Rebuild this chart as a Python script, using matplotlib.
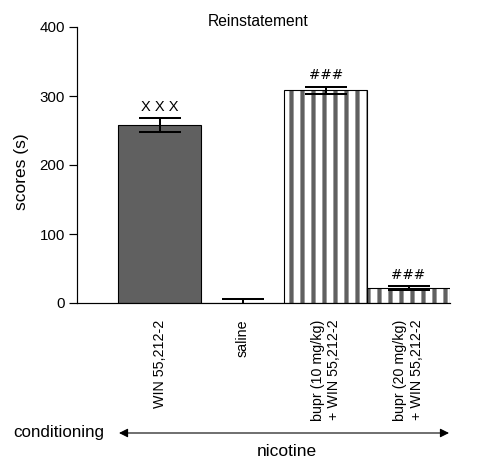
import matplotlib
matplotlib.use("Agg")
import matplotlib.pyplot as plt

# data
groups = ["WIN 55,212-2", "saline",
          "bupr (10 mg/kg)\n+ WIN 55,212-2",
          "bupr (20 mg/kg)\n+ WIN 55,212-2"]
means = [258, 0, 308, 22]
sems = [10, 6, 5, 2.5]
marks = ["X X X", "", "###", "###"]
colors = ["#606060", "white", "white", "white"]
hatches = ["", "", "|", "|"]

plt.rcParams["font.family"] = ["Liberation Sans", "DejaVu Sans"]
plt.rcParams["hatch.linewidth"] = 4.6

DPI = 66
fig = plt.figure(figsize=(487 / DPI, 460 / DPI), dpi=DPI)
ax = fig.add_axes([77 / 487, 1 - 303 / 460, (450 - 77) / 487, (303 - 27) / 460])

x = list(range(len(groups)))
# fill + grey stripes, then black outline on top
ax.bar(x, means, width=1.0, color=colors, edgecolor="#606060", linewidth=0,
       hatch=hatches)
ax.bar(x, means, width=1.0, fill=False, edgecolor="black", linewidth=1.2)
ax.errorbar(x, means, yerr=sems, fmt="none", ecolor="black", elinewidth=2.2,
            capsize=23, capthick=2.2)

for xi, m, s, t in zip(x, means, sems, marks):
    if t == "###":
        ax.annotate(t, (xi, m + s), xytext=(0, 5), textcoords="offset points",
                    ha="center", va="bottom", fontsize=15, family="DejaVu Sans")
    elif t:
        ax.annotate(t, (xi, m + s), xytext=(0, 4), textcoords="offset points",
                    ha="center", va="bottom", fontsize=16)

ax.set_xlim(-1.0, 3.5)
ax.set_ylim(0, 400)
ax.set_yticks([0, 100, 200, 300, 400])
ax.set_xticks(x)
ax.set_xticklabels(groups, rotation=90, va="top", ha="center",
                   multialignment="right", fontsize=15.5)
ax.tick_params(axis="x", length=0, pad=18)
ax.tick_params(axis="y", length=9, width=1.3, labelsize=16.5, pad=4)
ax.spines["top"].set_visible(False)
ax.spines["right"].set_visible(False)
ax.spines["left"].set_linewidth(1.3)
ax.spines["bottom"].set_linewidth(1.3)
ax.set_ylabel("scores (s)", fontsize=19, va="center")
ax.yaxis.set_label_coords(-0.15, 0.476)

fig.text(258 / 487, 1 - 21 / 460, "Reinstatement", fontsize=17, ha="center", va="center")
fig.text(13 / 487, 1 - 433 / 460, "conditioning", fontsize=18.5, ha="left", va="center")
fig.text(287 / 487, 1 - 452 / 460, "nicotine", fontsize=19, ha="center", va="center")
ax.annotate("", xy=(449 / 487, 1 - 433 / 460), xytext=(119 / 487, 1 - 433 / 460),
            xycoords="figure fraction", textcoords="figure fraction",
            arrowprops=dict(arrowstyle="<|-|>", color="black", lw=1.2,
                            mutation_scale=20, shrinkA=0, shrinkB=0))

fig.savefig("out.png", dpi=DPI)
